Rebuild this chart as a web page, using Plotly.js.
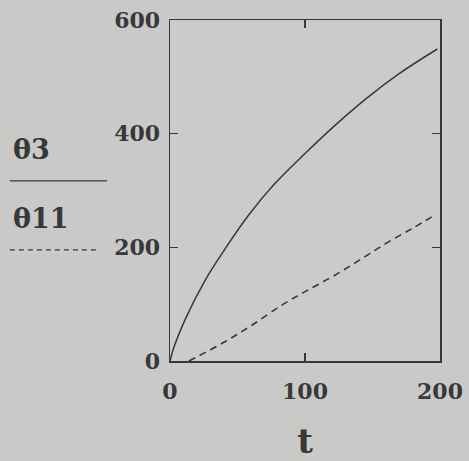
<!DOCTYPE html>
<html>
<head>
<meta charset="utf-8">
<script src="https://cdn.plot.ly/plotly-3.0.1.min.js"></script>
<style>html,body{margin:0;padding:0;background:#c9c9c7;}</style>
</head>
<body>
<div id="chart" style="width:469px;height:461px;"></div>
<script>
// theta3 (solid)
const t3 = [0, 3, 11, 26, 41, 58, 78, 100, 121, 146, 170, 198];
const theta3 = [0, 25, 72, 142, 198, 256, 313, 365, 412, 463, 506, 549];
// theta11 (dashed)
const t11 = [14, 40, 60, 84, 100, 120, 140, 160, 180, 197];
const theta11 = [0, 33, 62, 100, 122, 148, 177, 207, 234, 258];
const xTicks = [0, 100, 200];
const yTicks = [0, 200, 400, 600];
const legendNames = ['θ3', 'θ11'];

const ink = '#383838';
const data = [
  {x: t3, y: theta3, mode: 'lines', line: {color: ink, width: 1.5, shape: 'spline', smoothing: 1}, name: legendNames[0]},
  {x: t11, y: theta11, mode: 'lines', line: {color: ink, width: 1.6, dash: '7px,5px', shape: 'spline', smoothing: 1}, name: legendNames[1]}
];
const fontTick = {family: 'DejaVu Serif', size: 22, color: ink, weight: 'bold'};
const layout = {
  width: 469, height: 461,
  margin: {l: 170, r: 29, t: 20, b: 100},
  paper_bgcolor: '#c9c9c7',
  plot_bgcolor: '#cbcbc9',
  showlegend: false,
  xaxis: {
    range: [0, 200], tickvals: xTicks, ticktext: xTicks.map(String),
    ticks: 'inside', ticklen: 8, tickcolor: ink, tickwidth: 1.5,
    showline: true, linecolor: ink, linewidth: 1.5, mirror: 'ticks',
    showgrid: false, zeroline: false, tickfont: fontTick, ticklabelstandoff: 10,
    title: {text: '<b>t</b>', font: {family: 'DejaVu Serif', size: 34, color: ink}, standoff: 26}
  },
  yaxis: {
    range: [0, 600], tickvals: yTicks, ticktext: yTicks.map(String),
    ticks: 'inside', ticklen: 8, tickcolor: ink, tickwidth: 1.5,
    showline: true, linecolor: ink, linewidth: 1.5, mirror: 'ticks',
    showgrid: false, zeroline: false, tickfont: fontTick, ticklabelstandoff: 4
  },
  annotations: [
    {xref: 'paper', yref: 'paper', x: -0.59, y: 0.619, xanchor: 'left', yanchor: 'middle',
     text: legendNames[0], showarrow: false, font: {family: 'DejaVu Serif', size: 27, color: ink, weight: 'bold'}},
    {xref: 'paper', yref: 'paper', x: -0.59, y: 0.419, xanchor: 'left', yanchor: 'middle',
     text: legendNames[1], showarrow: false, font: {family: 'DejaVu Serif', size: 27, color: ink, weight: 'bold'}}
  ],
  shapes: [
    {type: 'line', xref: 'paper', yref: 'paper', x0: -0.593, x1: -0.233, y0: 0.528, y1: 0.528,
     line: {color: ink, width: 1.3}},
    {type: 'line', xref: 'paper', yref: 'paper', x0: -0.593, x1: -0.259, y0: 0.326, y1: 0.326,
     line: {color: ink, width: 1.3, dash: '5px,4px'}}
  ]
};
Plotly.newPlot('chart', data, layout, {displayModeBar: false, staticPlot: true});
</script>
</body>
</html>
